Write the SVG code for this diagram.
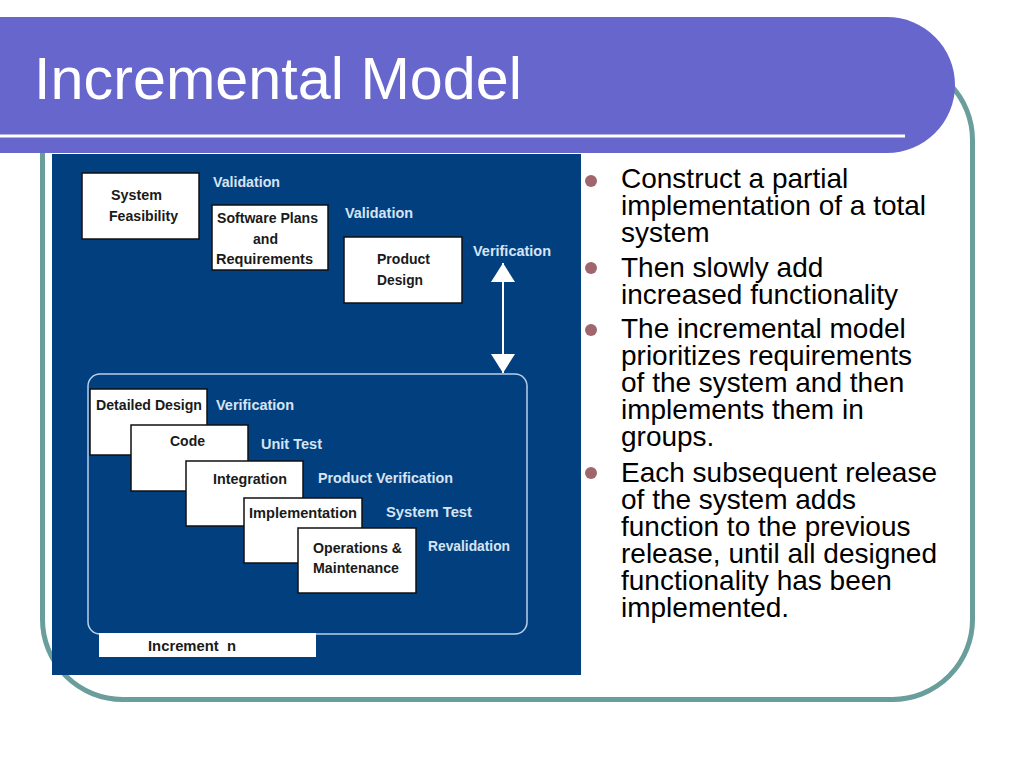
<svg xmlns="http://www.w3.org/2000/svg" width="1024" height="768" viewBox="0 0 1024 768">
<style>
.box{fill:#ffffff;stroke:#111111;stroke-width:1.5}
.bt{font-family:"Liberation Sans",Arial,sans-serif;font-size:15px;font-weight:bold;fill:#1a1a1a}
.lb{font-family:"Liberation Sans",Arial,sans-serif;font-size:15px;font-weight:bold;fill:#d6e4f4}
.body{font-family:"Liberation Sans",Arial,sans-serif;font-size:28px;fill:#000000}
.bul{fill:#a0666e}
</style>
<defs>
<marker id="ah" viewBox="0 0 19 24" refX="19" refY="12" markerWidth="19" markerHeight="24" markerUnits="userSpaceOnUse" orient="auto-start-reverse">
<path d="M0,0 L19,12 L0,24 Z" fill="#ffffff"/>
</marker>
</defs>
<rect width="1024" height="768" fill="#ffffff"/>
<rect x="42.5" y="60" width="930" height="639.5" rx="80" ry="80" fill="#ffffff" stroke="#6a9e9c" stroke-width="5"/>
<path d="M0,17 H887 A68,68 0 0 1 887,153 H0 Z" fill="#6666cc"/>
<rect x="0" y="134.5" width="905" height="3" fill="#ffffff"/>
<text x="34" y="99" font-family="'Liberation Sans',Arial,sans-serif" font-size="60" fill="#ffffff" textLength="488" lengthAdjust="spacingAndGlyphs">Incremental Model</text>

<rect x="52" y="154" width="529" height="521" fill="#023f7f"/>
<rect x="88" y="374" width="439" height="260" rx="12" ry="12" fill="none" stroke="#b8d0ec" stroke-width="1.5"/>

<g id="connectors">
<line x1="503" y1="263" x2="503" y2="373" stroke="#ffffff" stroke-width="2" marker-start="url(#ah)" marker-end="url(#ah)"/>
</g>

<g id="labels">
<text class="lb" x="213" y="187" textLength="67" lengthAdjust="spacingAndGlyphs">Validation</text>
<text class="lb" x="345" y="218" textLength="68" lengthAdjust="spacingAndGlyphs">Validation</text>
<text class="lb" x="473" y="256" textLength="78" lengthAdjust="spacingAndGlyphs">Verification</text>
<text class="lb" x="216" y="410" textLength="78" lengthAdjust="spacingAndGlyphs">Verification</text>
<text class="lb" x="261" y="449" textLength="61" lengthAdjust="spacingAndGlyphs">Unit Test</text>
<text class="lb" x="318" y="483" textLength="135" lengthAdjust="spacingAndGlyphs">Product Verification</text>
<text class="lb" x="386" y="517" textLength="86" lengthAdjust="spacingAndGlyphs">System Test</text>
<text class="lb" x="428" y="551" textLength="82" lengthAdjust="spacingAndGlyphs">Revalidation</text>
</g>

<g id="system-feasibility">
<rect class="box" x="82" y="173" width="117" height="66"/>
<text class="bt" x="111" y="200" textLength="51" lengthAdjust="spacingAndGlyphs">System</text>
<text class="bt" x="109" y="221" textLength="69" lengthAdjust="spacingAndGlyphs">Feasibility</text>
</g>

<g id="software-plans">
<rect class="box" x="212" y="205" width="116" height="65"/>
<text class="bt" x="217" y="223" textLength="101" lengthAdjust="spacingAndGlyphs">Software Plans</text>
<text class="bt" x="253" y="244" textLength="25" lengthAdjust="spacingAndGlyphs">and</text>
<text class="bt" x="216" y="264" textLength="97" lengthAdjust="spacingAndGlyphs">Requirements</text>
</g>

<g id="product-design">
<rect class="box" x="344" y="237" width="118" height="66"/>
<text class="bt" x="377" y="264" textLength="53" lengthAdjust="spacingAndGlyphs">Product</text>
<text class="bt" x="377" y="285" textLength="46" lengthAdjust="spacingAndGlyphs">Design</text>
</g>

<g id="detailed-design">
<rect class="box" x="90" y="389" width="117" height="66"/>
<text class="bt" x="96" y="410" textLength="106" lengthAdjust="spacingAndGlyphs">Detailed Design</text>
</g>

<g id="code">
<rect class="box" x="131" y="425" width="117" height="66"/>
<text class="bt" x="170" y="446" textLength="35" lengthAdjust="spacingAndGlyphs">Code</text>
</g>

<g id="integration">
<rect class="box" x="186" y="461" width="117" height="65"/>
<text class="bt" x="213" y="484" textLength="74" lengthAdjust="spacingAndGlyphs">Integration</text>
</g>

<g id="implementation">
<rect class="box" x="244" y="498" width="118" height="65"/>
<text class="bt" x="249" y="518" textLength="108" lengthAdjust="spacingAndGlyphs">Implementation</text>
</g>

<g id="operations-maintenance">
<rect class="box" x="298" y="528" width="118" height="65"/>
<text class="bt" x="313" y="553" textLength="89" lengthAdjust="spacingAndGlyphs">Operations &amp;</text>
<text class="bt" x="313" y="573" textLength="86" lengthAdjust="spacingAndGlyphs">Maintenance</text>
</g>

<g id="increment-n">
<rect x="99" y="633" width="217" height="24" fill="#ffffff"/>
<text class="bt" x="148" y="651" textLength="88" lengthAdjust="spacingAndGlyphs" xml:space="preserve">Increment  n</text>
</g>

<g id="bullets">
<circle class="bul" cx="591" cy="181" r="6"/>
<circle class="bul" cx="591" cy="268" r="6"/>
<circle class="bul" cx="591" cy="330" r="6"/>
<circle class="bul" cx="591" cy="473" r="6"/>
<text class="body" x="621" y="188">Construct a partial</text>
<text class="body" x="621" y="215">implementation of a total</text>
<text class="body" x="621" y="242">system</text>
<text class="body" x="621" y="277">Then slowly add</text>
<text class="body" x="621" y="304">increased functionality</text>
<text class="body" x="621" y="338">The incremental model</text>
<text class="body" x="621" y="365">prioritizes requirements</text>
<text class="body" x="621" y="392">of the system and then</text>
<text class="body" x="621" y="419">implements them in</text>
<text class="body" x="621" y="446">groups.</text>
<text class="body" x="621" y="482">Each subsequent release</text>
<text class="body" x="621" y="509">of the system adds</text>
<text class="body" x="621" y="536">function to the previous</text>
<text class="body" x="621" y="563">release, until all designed</text>
<text class="body" x="621" y="590">functionality has been</text>
<text class="body" x="621" y="617">implemented.</text>
</g>
</svg>
